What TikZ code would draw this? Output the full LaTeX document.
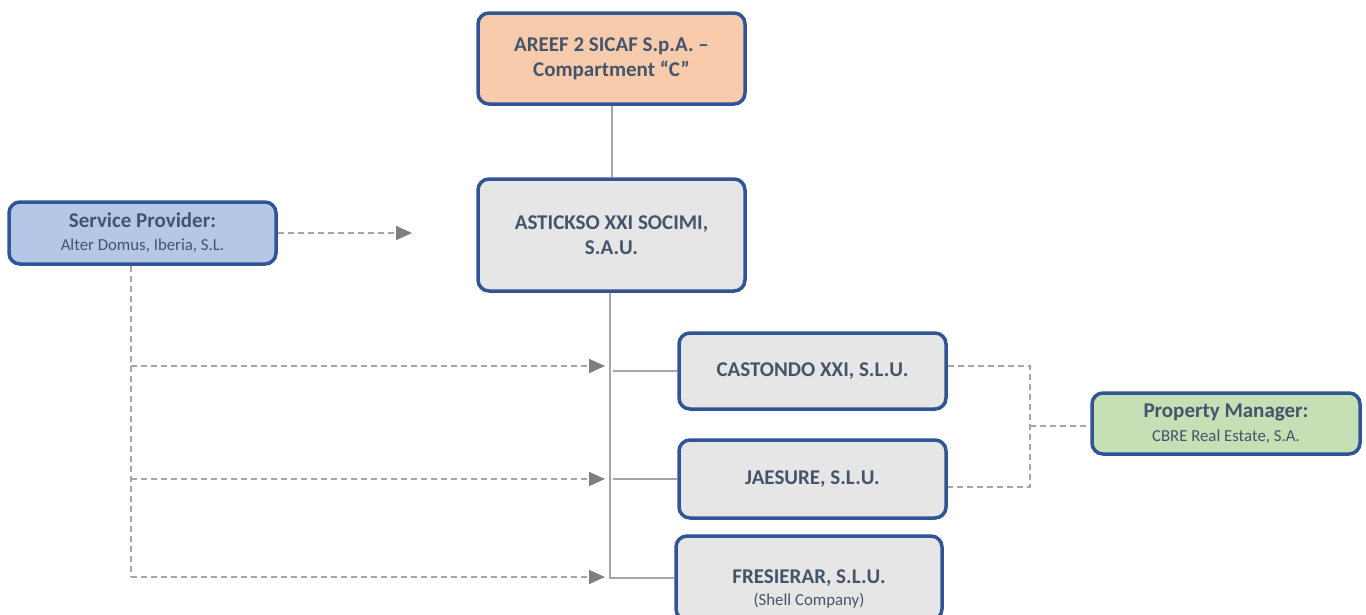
\documentclass[tikz,border=0pt]{standalone}
\usepackage{fontspec}
\setmainfont{Carlito}
\usetikzlibrary{arrows.meta}
\definecolor{txt}{HTML}{44546A}
\definecolor{bord}{HTML}{2F5597}
\definecolor{peach}{HTML}{F8CBAD}
\definecolor{lgrey}{HTML}{E7E6E6}
\definecolor{lblue}{HTML}{B4C7E7}
\definecolor{lgreen}{HTML}{C5E0B4}
\definecolor{lineg}{HTML}{A6A6A6}
\definecolor{arrg}{HTML}{7F7F7F}
\tikzset{
  box/.style={draw=bord, line width=3.5pt, rounded corners=11pt, text=txt, align=center, inner sep=0pt, font=\bfseries\fontsize{21}{25}\selectfont},
  solidline/.style={draw=lineg, line width=2pt},
  dline/.style={draw=lineg, line width=1.6pt, dash pattern=on 6pt off 4pt},
  darrow/.style={dline, -{Triangle[length=16pt,width=14pt,fill=arrg,color=arrg]}},
}
\begin{document}
\begin{tikzpicture}[x=1pt,y=-1pt]
\useasboundingbox (0,0) rectangle (1366,614);
\begin{scope}
\clip (0,0) rectangle (1366,614);
\node[box, fill=peach, minimum width=267pt, minimum height=91pt] (areef) at (611.5,58.5) {AREEF 2 SICAF S.p.A. –\\Compartment “C”};
\node[box, fill=lgrey, minimum width=267pt, minimum height=112pt] (ast) at (611.5,235) {ASTICKSO XXI SOCIMI,\\S.A.U.};
\node[box, fill=lblue, minimum width=267pt, minimum height=62pt, font=\fontsize{16.8}{23}\selectfont] (sp) at (142.5,233) {{\bfseries\fontsize{21}{23}\selectfont Service Provider:}\\Alter Domus, Iberia, S.L.};
\node[box, fill=lgrey, minimum width=267pt, minimum height=76pt] (cas) at (812.5,371) {CASTONDO XXI, S.L.U.};
\node[box, fill=lgrey, minimum width=267pt, minimum height=78pt] (jae) at (812.5,479) {JAESURE, S.L.U.};
\node[box, fill=lgrey, minimum width=266pt, minimum height=84pt] (fre) at (809,578) {};
\node[text=txt, font=\bfseries\fontsize{21}{24}\selectfont] (fret) at (809,578) {FRESIERAR, S.L.U.};
\node[text=txt, font=\fontsize{16.8}{20}\selectfont] (fres) at (809,601) {(Shell Company)};
\node[box, fill=lgreen, minimum width=268pt, minimum height=61pt, font=\fontsize{16.8}{24}\selectfont] (pm) at (1226,423.5) {{\bfseries\fontsize{21}{24}\selectfont Property Manager:}\\CBRE Real Estate, S.A.};

% solid lines
\draw[solidline] (areef.south) -- (ast.north);
\coordinate (tee) at (610,578);
\draw[solidline] (ast.south -| tee) -- (tee) -- (fre.west |- tee);
\coordinate (c1) at (613,371);
\coordinate (c2) at (613,479);
\draw[solidline] (c1) -- (cas.west |- c1);
\draw[solidline] (c2) -- (jae.west |- c2);

% service provider dashed
\coordinate (spa) at (412,233);
\draw[darrow] (sp.east |- spa) -- (spa);
\coordinate (sb) at (131,577);
\coordinate (a1) at (605,366);
\coordinate (a2) at (605,479);
\coordinate (a3) at (605,577);
\draw[dline] (sp.south -| sb) -- (sb);
\draw[darrow] (sb |- a1) -- (a1);
\draw[darrow] (sb |- a2) -- (a2);
\draw[darrow] (sb) -- (a3);

% property manager dashed
\coordinate (p1) at (1030,366);
\coordinate (p2) at (1030,487);
\coordinate (pm0) at (1030,426);
\draw[dline] (cas.east |- p1) -- (p1) -- (p2) -- (jae.east |- p2);
\draw[dline] (pm0) -- (pm.west |- pm0);
\end{scope}
\end{tikzpicture}
\end{document}
